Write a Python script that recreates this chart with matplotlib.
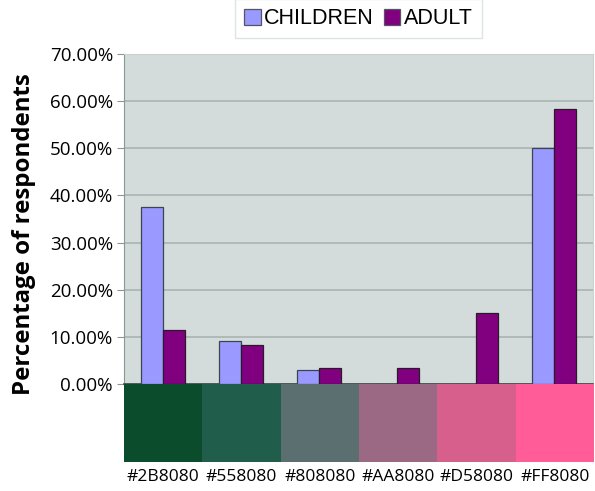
import numpy as np
import matplotlib.pyplot as plt
from matplotlib.ticker import PercentFormatter

categories = ['#2B8080', '#558080', '#808080', '#AA8080', '#D58080', '#FF8080']
children = [37.5, 9.2, 3.0, 0.0, 0.0, 50.0]
adult = [11.5, 8.3, 3.3, 3.3, 15.0, 58.3]
band_colors = ['#0b4c2d', '#205d4a', '#5b6e70', '#9b6983', '#d65f8c', '#ff5c98']

fig = plt.figure(figsize=(5.95, 4.91), dpi=100)
ax = fig.add_axes([0.2084, 0.2179, 0.788, 0.6721])
ax.set_facecolor('#d3dcda')

x = np.arange(len(categories))
w = 0.28
ax.bar(x - w / 2, children, w, color='#9999ff', edgecolor='#3c4450', linewidth=0.9, label='CHILDREN', zorder=3)
ax.bar(x + w / 2, adult, w, color='#800080', edgecolor='#2a1a2a', linewidth=0.9, label='ADULT', zorder=3)

ax.set_xlim(-0.5, 5.5)
ax.set_ylim(0, 70)
ax.set_yticks(np.arange(0, 71, 10))
ax.yaxis.set_major_formatter(PercentFormatter(decimals=2))
ax.grid(axis='y', color='#a9b5b3', linewidth=1.2, zorder=1)
ax.set_xticks([])
for s in ['top', 'right']:
    ax.spines[s].set_color('#c8d2d0')
ax.spines['left'].set_color('#8a9694')
ax.spines['bottom'].set_color('#3a4a44')
ax.spines['bottom'].set_linewidth(1.2)
ax.tick_params(axis='y', length=5, color='#8a9694', labelsize=13.5, pad=3)
for t in ax.get_yticklabels():
    t.set_family('Open Sans')
ax.set_ylabel('Percentage of respondents', fontsize=17.3, fontweight='bold', family='Open Sans')
ax.yaxis.set_label_coords(-0.1875, 0.455)

leg = ax.legend(loc='lower center', bbox_to_anchor=(0.5, 1.048), ncol=2, frameon=True,
                prop={'family': 'Liberation Sans', 'size': 15.5}, handlelength=0.75, handleheight=0.75,
                handletextpad=0.15, columnspacing=0.5, borderpad=0.42, borderaxespad=0,
                fancybox=False)
leg.get_frame().set_edgecolor('#d6dcdc')
leg.get_frame().set_linewidth(1.0)
for h in leg.legend_handles:
    h.set_edgecolor('#555566')

# colour band under the axis
ax2 = fig.add_axes([0.2084, 0.059, 0.79, 0.1589])
ax2.bar(x, [1] * len(categories), 1.0, color=band_colors)
ax2.set_xlim(-0.5, 5.5)
ax2.set_ylim(0, 1)
ax2.set_yticks([])
ax2.set_xticks(x)
ax2.set_xticklabels(categories, family='Open Sans', fontsize=12.5)
ax2.tick_params(axis='x', length=0, pad=5)
for s in ax2.spines.values():
    s.set_visible(False)

fig.savefig('out.png', dpi=100)
